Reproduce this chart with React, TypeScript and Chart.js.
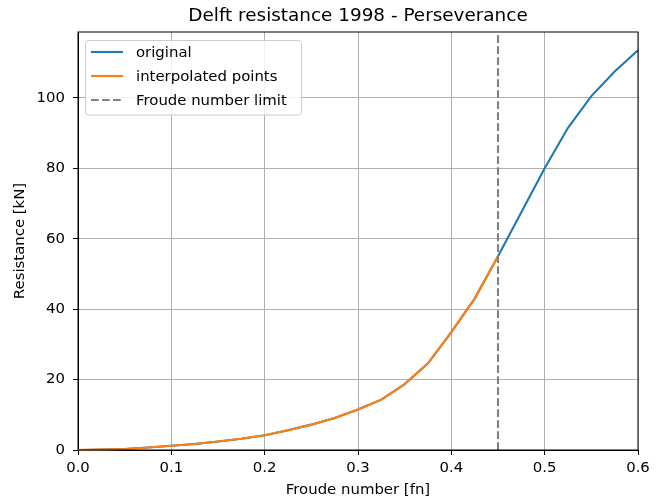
import React, { useEffect, useRef } from "react";
import { Chart, registerables } from "chart.js";

Chart.register(...registerables);

const froude = [
  0, 0.025, 0.05, 0.075, 0.1, 0.125, 0.15, 0.175, 0.2, 0.225, 0.25, 0.275, 0.3,
  0.325, 0.35, 0.375, 0.4, 0.425, 0.45, 0.475, 0.5, 0.525, 0.55, 0.575, 0.6,
];
const original = [
  0, 0.1, 0.3, 0.7, 1.2, 1.7, 2.4, 3.2, 4.2, 5.6, 7.2, 9.1, 11.5, 14.3, 18.7,
  24.6, 33.5, 43, 55, 67.5, 80, 91.5, 100.5, 107.5, 113.5,
];
const interpFroude = [
  0, 0.025, 0.05, 0.075, 0.1, 0.125, 0.15, 0.175, 0.2, 0.225, 0.25, 0.275, 0.3,
  0.325, 0.35, 0.375, 0.4, 0.425, 0.45,
];
const interpolated = [
  0, 0.1, 0.3, 0.7, 1.2, 1.7, 2.4, 3.2, 4.2, 5.6, 7.2, 9.1, 11.5, 14.3, 18.7,
  24.6, 33.5, 43, 55,
];
const froudeLimit = 0.45;
const xRange = [0, 0.6];
const yRange = [0, 118.7];
const seriesNames = ["original", "interpolated points", "Froude number limit"];
const titleText = "Delft resistance 1998 - Perseverance";
const xTitle = "Froude number [fn]";
const yTitle = "Resistance [kN]";

const FONT = "'DejaVu Sans', sans-serif";
const BLUE = "#1f77b4";
const ORANGE = "#ff7f0e";
const GRAY = "#808080";
const FS = 14.9;
const LW = 2.1;

const decorPlugin = {
  id: "decor",
  afterDatasetsDraw(chart: any) {
    const { ctx, chartArea } = chart;
    const { left, right, top, bottom } = chartArea;
    ctx.save();
    // spines
    ctx.strokeStyle = "#000";
    ctx.lineWidth = 1;
    ctx.strokeRect(left, top, right - left, bottom - top);
    // title
    ctx.fillStyle = "#000";
    ctx.font = `18.4px ${FONT}`;
    ctx.textAlign = "center";
    ctx.textBaseline = "middle";
    ctx.fillText(titleText, (left + right) / 2, 16);
    // legend
    const lx = left + 7.5;
    const ly = top + 8.5;
    const lw = 216;
    const lh = 74.5;
    const r = 3;
    ctx.beginPath();
    ctx.moveTo(lx + r, ly);
    ctx.lineTo(lx + lw - r, ly);
    ctx.arcTo(lx + lw, ly, lx + lw, ly + r, r);
    ctx.lineTo(lx + lw, ly + lh - r);
    ctx.arcTo(lx + lw, ly + lh, lx + lw - r, ly + lh, r);
    ctx.lineTo(lx + r, ly + lh);
    ctx.arcTo(lx, ly + lh, lx, ly + lh - r, r);
    ctx.lineTo(lx, ly + r);
    ctx.arcTo(lx, ly, lx + r, ly, r);
    ctx.closePath();
    ctx.fillStyle = "rgba(255,255,255,0.8)";
    ctx.fill();
    ctx.strokeStyle = "#cccccc";
    ctx.lineWidth = 1;
    ctx.stroke();
    const colors = [BLUE, ORANGE, GRAY];
    ctx.font = `${FS}px ${FONT}`;
    ctx.textAlign = "left";
    ctx.textBaseline = "middle";
    for (let i = 0; i < 3; i++) {
      const y = top + 20 + i * 24;
      ctx.beginPath();
      ctx.strokeStyle = colors[i];
      ctx.lineWidth = LW;
      ctx.setLineDash(i === 2 ? [7.7, 3.3] : []);
      ctx.moveTo(left + 13, y);
      ctx.lineTo(left + 45, y);
      ctx.stroke();
      ctx.setLineDash([]);
      ctx.fillStyle = "#000";
      ctx.fillText(seriesNames[i], left + 58, y + 1);
    }
    ctx.restore();
  },
};

export default function App() {
  const ref = useRef<HTMLCanvasElement>(null);
  useEffect(() => {
    document.body.style.margin = "0";
    Chart.defaults.font.family = FONT;
    Chart.defaults.color = "#000";
    const chart = new Chart(ref.current!, {
      type: "line",
      data: {
        datasets: [
          {
            label: seriesNames[0],
            data: froude.map((x, i) => ({ x, y: original[i] })),
            borderColor: BLUE,
            borderWidth: LW,
            pointRadius: 0,
            tension: 0,
            clip: false,
            order: 2,
          },
          {
            label: seriesNames[1],
            data: interpFroude.map((x, i) => ({ x, y: interpolated[i] })),
            borderColor: ORANGE,
            borderWidth: LW,
            pointRadius: 0,
            tension: 0,
            clip: false,
            order: 1,
          },
          {
            label: seriesNames[2],
            data: [
              { x: froudeLimit, y: yRange[0] },
              { x: froudeLimit, y: yRange[1] },
            ],
            borderColor: GRAY,
            borderWidth: LW,
            borderDash: [7.7, 3.3],
            pointRadius: 0,
            order: 0,
          },
        ],
      },
      options: {
        animation: false,
        responsive: true,
        maintainAspectRatio: false,
        layout: { padding: { top: 32, right: 21, left: 0, bottom: 0 } },
        plugins: {
          legend: { display: false },
          tooltip: { enabled: false },
          title: { display: false },
        },
        scales: {
          x: {
            type: "linear",
            min: xRange[0],
            max: xRange[1],
            afterFit: (s: any) => {
              s.height = 50;
            },
            ticks: {
              stepSize: 0.1,
              includeBounds: false,
              padding: 4,
              font: { size: FS },
              color: "#000",
              maxRotation: 0,
              callback: (v: any) => Number(v).toFixed(1),
            },
            grid: {
              color: "#b0b0b0",
              lineWidth: 1,
              tickColor: "#000",
              tickLength: 5,
              tickWidth: 1,
            },
            border: { display: true, color: "#000", width: 1 },
            title: {
              display: true,
              text: xTitle,
              font: { size: FS },
              color: "#000",
              padding: { top: 0, bottom: 1 },
            },
          },
          y: {
            type: "linear",
            min: yRange[0],
            max: yRange[1],
            afterFit: (s: any) => {
              s.width = 78;
            },
            ticks: {
              stepSize: 20,
              includeBounds: false,
              padding: 8,
              font: { size: FS },
              color: "#000",
            },
            grid: {
              color: "#b0b0b0",
              lineWidth: 1,
              tickColor: "#000",
              tickLength: 5,
              tickWidth: 1,
            },
            border: { display: true, color: "#000", width: 1 },
            title: {
              display: true,
              text: yTitle,
              font: { size: FS },
              color: "#000",
              padding: { top: 11.5, bottom: 0 },
            },
          },
        },
      },
      plugins: [decorPlugin],
    });
    return () => chart.destroy();
  }, []);
  return (
    <div style={{ position: "absolute", left: 0, top: 0, width: 659, height: 500 }}>
      <canvas ref={ref} />
    </div>
  );
}
